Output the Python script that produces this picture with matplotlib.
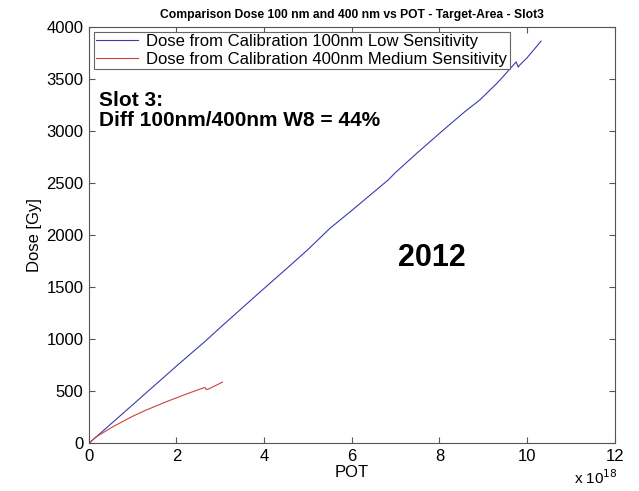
import matplotlib.pyplot as plt

plt.rcParams['font.family'] = ['Liberation Sans', 'DejaVu Sans']

# POT in units of 1e18, dose in Gy
pot_100 = [0, 0.5, 1.0, 1.5, 2.0, 2.67, 3.0, 3.5, 4.0, 4.5, 5.0, 5.5, 6.0,
           6.83, 7.0, 7.5, 8.09, 8.58, 8.92, 9.3, 9.45, 9.75, 9.8, 9.82, 10.0, 10.32]
dose_100 = [0, 185, 370, 556, 742, 985, 1112, 1300, 1487, 1672, 1860, 2063, 2235,
            2527, 2600, 2790, 3007, 3183, 3295, 3450, 3518, 3660, 3610, 3625, 3700, 3860]

pot_400 = [0, 0.17, 0.55, 1.0, 1.31, 1.8, 2.27, 2.4, 2.65, 2.68, 2.75, 3.05]
dose_400 = [0, 63, 160, 260, 320, 405, 480, 500, 537, 515, 525, 588]

labels = ['Dose from Calibration 100nm Low Sensitivity',
          'Dose from Calibration 400nm Medium Sensitivity']

fig = plt.figure(figsize=(6.39, 4.91), dpi=100)
ax = fig.add_axes([0.139, 0.097, 0.823, 0.849])

ax.plot(pot_100, dose_100, color='#3a3ab0', linewidth=0.8, label=labels[0])
ax.plot(pot_400, dose_400, color='#d04040', linewidth=0.8, label=labels[1])

ax.set_xlim(0, 12)
ax.set_ylim(0, 4000)
ax.set_xticks(range(0, 13, 2))
ax.set_yticks(range(0, 4001, 500))
ax.tick_params(direction='in', top=True, right=True, labelsize=12, length=4,
               color='#555555', pad=4)
for s in ax.spines.values():
    s.set_color('#555555')
    s.set_linewidth(0.8)

ax.set_xlabel('POT', fontsize=12, labelpad=1)
ax.set_ylabel('Dose [Gy]', fontsize=12, labelpad=3)
ax.set_title('Comparison Dose 100 nm and 400 nm vs POT - Target-Area - Slot3',
             fontsize=8.7, fontweight='bold', pad=6)

leg = ax.legend(loc='upper left', fontsize=12, fancybox=False, framealpha=1,
                edgecolor='#666666', handlelength=2.5, borderaxespad=0.3,
                borderpad=0.15, labelspacing=0.15, handletextpad=0.5)
leg.get_frame().set_linewidth(0.8)

ax.text(0.019, 0.845, 'Slot 3:\nDiff 100nm/400nm W8 = 44%', transform=ax.transAxes,
        fontsize=15, fontweight='bold', va='top', ha='left', linespacing=1.05)
ax.text(0.653, 0.445, '2012', transform=ax.transAxes, fontsize=22,
        fontweight='bold', ha='center', va='center')

fig.text(0.966, 0.008, r'x 10$^{18}$', fontsize=11, ha='right', va='bottom')

fig.savefig('out.png', dpi=100)
